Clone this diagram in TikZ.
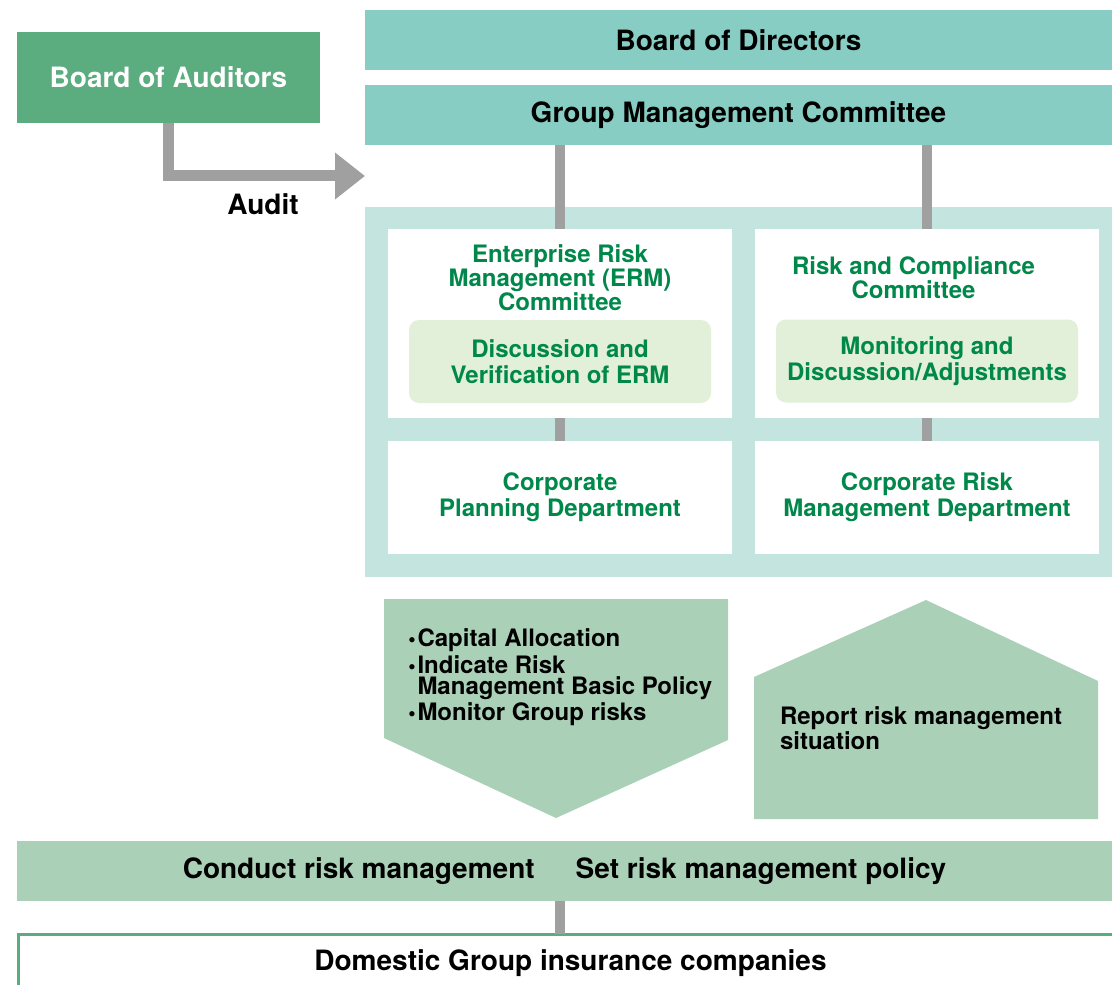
\documentclass[tikz,border=0pt]{standalone}
\usepackage{fontspec}
\setmainfont{TeX Gyre Heros}
\usetikzlibrary{positioning,arrows.meta}
\definecolor{auditgreen}{HTML}{5BAC7F}
\definecolor{boardteal}{HTML}{88CDC3}
\definecolor{panelteal}{HTML}{C4E4DF}
\definecolor{softgreen}{HTML}{E2EFD9}
\definecolor{flowgreen}{HTML}{ABD0B8}
\definecolor{textgreen}{HTML}{00884A}
\definecolor{linkgray}{HTML}{A0A0A0}
\newcommand{\itemdot}{\makebox[5.5pt][c]{\fontsize{10.5}{10.5}\selectfont •}}

\begin{document}
\begin{tikzpicture}[
    x=0.5pt, y=-0.5pt,
    every node/.style={font=\bfseries\fontsize{12}{12}\selectfont, inner sep=0pt, outer sep=0pt},
    topbox/.style={rectangle, fill=boardteal, minimum width=373.5pt, minimum height=30pt,
      font=\bfseries\fontsize{14}{14}\selectfont},
    auditbox/.style={rectangle, fill=auditgreen, text=white, minimum width=151.5pt,
      minimum height=45.5pt, font=\bfseries\fontsize{14}{14}\selectfont},
    panelbox/.style={rectangle, fill=panelteal, minimum width=373.5pt, minimum height=185pt},
    unitbox/.style={rectangle, fill=white, minimum width=172pt},
    greentext/.style={text=textgreen, align=center},
    taskbox/.style={rectangle, rounded corners=5pt, fill=softgreen, minimum width=151pt,
      minimum height=41.5pt, text=textgreen, align=center,
      font=\bfseries\fontsize{12}{12.75}\selectfont},
    flowtext/.style={align=left, font=\bfseries\fontsize{12}{10.25}\selectfont},
    barbox/.style={rectangle, fill=flowgreen, minimum width=547.5pt, minimum height=30pt,
      font=\bfseries\fontsize{14}{14}\selectfont},
    groupbox/.style={rectangle, draw=auditgreen, line width=1.5pt, fill=white,
      minimum width=552pt, minimum height=29pt, font=\bfseries\fontsize{14}{14}\selectfont},
    link/.style={draw=linkgray, line width=5pt},
    auditarrow/.style={draw=linkgray, line width=5.5pt, -{Triangle[length=15pt,width=22.5pt]}},
    flowshape/.style={fill=flowgreen}
]
\useasboundingbox (0,0) rectangle (1112,984);
\clip (0,0) rectangle (1112,984);

\node (bod) [topbox] at (738.5,40) {Board of Directors};
\node (gmc) [topbox, below=7.5pt of bod] {Group Management Committee};
\node (boa) [auditbox] at (168.5,77.5) {Board of Auditors};

\node (panel) [panelbox] at (738.5,392) {};
\node (erm) [unitbox, minimum height=94.5pt] at (560,323.5) {};
\node (rcc) [unitbox, minimum height=94.5pt, right=11.5pt of erm] {};
\node (cpd) [unitbox, minimum height=56.5pt, below=11.5pt of erm, greentext,
  font=\bfseries\fontsize{12}{13}\selectfont] {Corporate\\Planning Department};
\node (crm) [unitbox, minimum height=56.5pt, below=11.5pt of rcc, greentext,
  font=\bfseries\fontsize{12}{13}\selectfont] {Corporate Risk\\Management Department};

\node (ermt) [greentext, anchor=north] at (560,245)
  {Enterprise Risk\\Management (ERM)\\Committee};
\node (rcct) [greentext, anchor=north] at (913.5,257) {Risk and Compliance\\Committee};
\node (ermd) [taskbox] at (560,361.5) {Discussion and\\Verification of ERM};
\node (rccm) [taskbox] at (927,361) {Monitoring and\\Discussion/Adjustments};

\coordinate (audittip) at (365,176);
\draw [auditarrow] (boa.south) |- (audittip);
\node (audit) [font=\bfseries\fontsize{14}{14}\selectfont] at (263,204) {Audit};

\draw [link] (gmc.south -| erm.north) -- (erm.north);
\draw [link] (gmc.south -| rcc.north) -- (rcc.north);
\draw [link] (erm.south) -- (cpd.north);
\draw [link] (rcc.south) -- (crm.north);

\fill [flowshape] (384,599) -- (728,599) -- (728,740) -- (556,818) -- (384,738) -- cycle;
\fill [flowshape] (754,819) -- (754,677) -- (926,600) -- (1098,681) -- (1098,819) -- cycle;
\node (alloc) [flowtext, anchor=north west] at (406.5,629)
  {\itemdot Capital Allocation\\[0.75pt]
   \itemdot Indicate Risk\\
   \phantom{\itemdot}Management Basic Policy\\[0.75pt]
   \itemdot Monitor Group risks};
\node (report) [flowtext, anchor=north west, font=\bfseries\fontsize{12}{11.5}\selectfont]
  at (780,706.5) {Report risk management\\situation};

\node (conduct) [barbox] at (564.5,871)
  {Conduct risk management\hspace{20.5pt}Set risk management policy};
\node (domestic) [groupbox] at (570.5,963) {Domestic Group insurance companies};
\draw [link] (conduct.south -| erm.south) -- (domestic.north -| erm.south);
\end{tikzpicture}
\end{document}
